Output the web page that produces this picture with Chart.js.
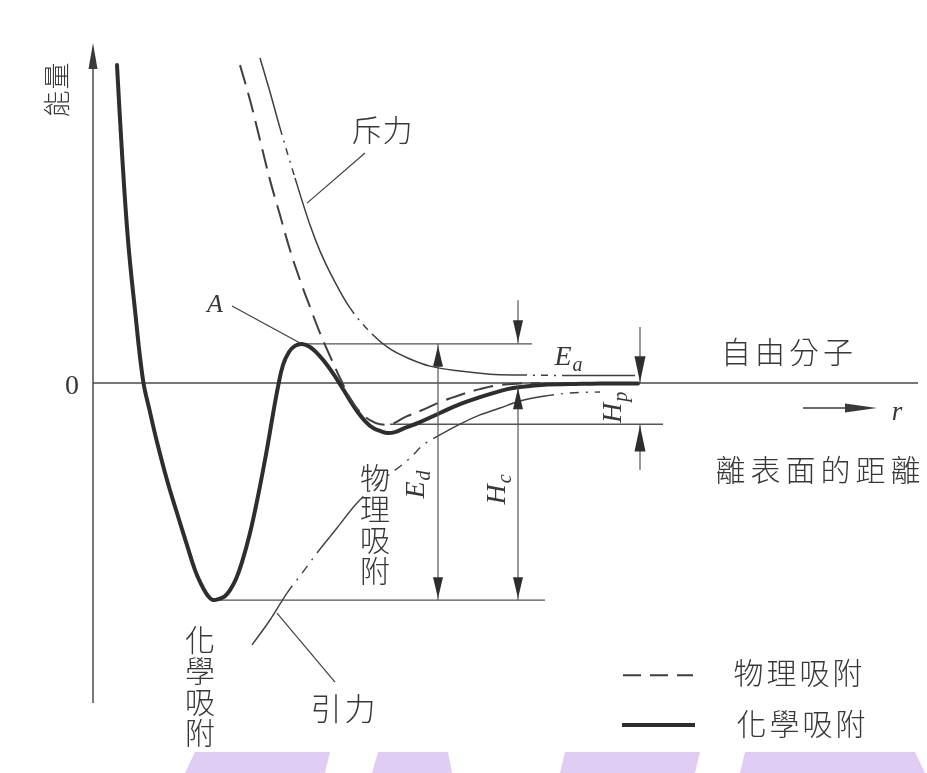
<!DOCTYPE html>
<html>
<head>
<meta charset="utf-8">
<title>吸附位能曲線</title>
<script src="https://cdn.jsdelivr.net/npm/chart.js@4.4.1/dist/chart.umd.min.js"></script>
<style>
  html, body { margin: 0; padding: 0; background: #ffffff; }
  canvas { display: block; }
</style>
</head>
<body>
<canvas id="c" width="927" height="773"></canvas>
<script>
// Distance from the surface r and potential energy E (arbitrary units) for each curve.
const chemR = [0.24,0.29,0.35,0.42,0.50,0.57,0.64,0.74,0.84,0.94,1.02,1.08,1.13,1.17,1.20,1.26,1.32,1.37,1.43,1.49,1.57,1.65,1.74,1.80,1.85,1.90,1.96,2.02,2.09,2.17,2.24,2.31,2.39,2.47,2.55,2.64,2.72,2.80,2.87,2.94,3.02,3.12,3.27,3.47,3.67,3.87,4.07,4.20,4.37,4.54,4.77,5.07,5.45];
const chemE = [1.465,1.060,0.659,0.336,0.014,-0.134,-0.272,-0.447,-0.599,-0.747,-0.862,-0.926,-0.968,-0.991,-1.000,-0.995,-0.982,-0.954,-0.903,-0.825,-0.691,-0.521,-0.304,-0.143,-0.018,0.083,0.143,0.171,0.180,0.166,0.138,0.101,0.051,-0.005,-0.065,-0.129,-0.175,-0.207,-0.221,-0.230,-0.226,-0.207,-0.180,-0.138,-0.097,-0.065,-0.037,-0.023,-0.014,-0.007,-0.005,-0.002,-0.002];

const physR = [1.47,1.57,1.67,1.77,1.87,1.97,2.07,2.17,2.27,2.37,2.47,2.57,2.67,2.77,2.87,2.99,3.12,3.27,3.47,3.67,3.87,4.07,4.27,4.47];
const physE = [1.465,1.304,1.120,0.935,0.774,0.613,0.475,0.350,0.230,0.124,0.023,-0.069,-0.134,-0.171,-0.190,-0.188,-0.157,-0.129,-0.088,-0.055,-0.028,-0.009,-0.002,0];

const repulR = [1.67,1.77,1.87,2.02,2.17,2.27,2.42,2.57,2.79,2.97,3.17,3.37,3.67,3.97,4.27,4.72,5.07,5.42];
const repulE = [1.498,1.341,1.175,0.945,0.728,0.608,0.465,0.346,0.226,0.157,0.111,0.078,0.055,0.041,0.037,0.035,0.035,0.035];

const attrR = [1.59,1.77,1.94,2.07,2.24,2.44,2.64,2.87,3.17,3.30,3.45,3.67,3.87,4.07,4.27,4.52,4.77,5.07];
const attrE = [-1.207,-1.092,-0.968,-0.889,-0.783,-0.668,-0.553,-0.456,-0.346,-0.286,-0.244,-0.189,-0.147,-0.115,-0.083,-0.060,-0.046,-0.041];

const seriesNames = ['物理吸附', '化學吸附'];

// Axis ranges (r along x, E along y)
const R_MIN = -0.93, R_MAX = 8.34;
const E_MIN = -1.797, E_MAX = 1.765;

// Characteristic levels taken from the curves themselves
const peakE = Math.max(...chemE.filter((e, i) => chemR[i] > 1.5));
const peakR = chemR[chemE.indexOf(peakE)];
const chemMinE = Math.min(...chemE);
const chemMinR = chemR[chemE.indexOf(chemMinE)];
const physMinE = Math.min(...physE);

const toPoints = (rs, es) => rs.map((r, i) => ({ x: r, y: es[i] }));
const inRanges = (v, ranges) => ranges.some(([a, b]) => v >= a - 1e-6 && v < b - 1e-6);

const INK = '#2e2e2e';
const THIN = '#3f3f3f';
const REF = '#555555';
const TEXT = '#383838';
const TINT = '#e0cdf3';
const CJK = "'Noto Sans CJK TC', 'Noto Sans CJK SC', sans-serif";
const SERIF = "'Liberation Serif', 'DejaVu Serif', serif";

// dash-dot stretches of the repulsion curve and solid stretches of the attraction curve
const repulBroken = [[1.87, 2.02], [2.57, 2.79], [4.27, 4.72]];
const attrSolid = [[1.59, 1.94], [2.24, 2.64], [3.45, 4.52]];

// lavender print tint along the lower edge of the page: [r top-left, r top-right, r bottom-right, r bottom-left]
const tintBlocks = [[1.02, 2.37, 2.32, 0.92], [2.85, 3.55, 3.59, 2.79], [4.72, 6.07, 6.02, 4.67], [6.52, 8.22, 8.32, 6.47]];
const TINT_TOP = -1.700;

const annotations = {
  id: 'annotations',
  beforeDatasetsDraw(chart) {
    const ctx = chart.ctx, sx = chart.scales.x, sy = chart.scales.y;
    const X = v => sx.getPixelForValue(v), Y = v => sy.getPixelForValue(v);
    const seg = (r1, e1, r2, e2, w, col) => {
      ctx.beginPath(); ctx.lineWidth = w; ctx.strokeStyle = col;
      ctx.moveTo(X(r1), Y(e1)); ctx.lineTo(X(r2), Y(e2)); ctx.stroke();
    };
    ctx.save();
    ctx.setLineDash([]);
    // page tint
    ctx.fillStyle = TINT;
    tintBlocks.forEach(([a, b, c, d]) => {
      ctx.beginPath();
      ctx.moveTo(X(a), Y(TINT_TOP)); ctx.lineTo(X(b), Y(TINT_TOP));
      ctx.lineTo(X(c), Y(E_MIN)); ctx.lineTo(X(d), Y(E_MIN));
      ctx.closePath(); ctx.fill();
    });
    // energy axis and zero line
    seg(0, -1.475, 0, 1.50, 1.5, '#4a4a4a');
    seg(0, 0, 8.25, 0, 1.5, '#4a4a4a');
    // reference levels
    seg(peakR, peakE, 4.39, peakE, 1.3, REF);
    seg(2.97, physMinE, 5.70, physMinE, 1.3, REF);
    seg(chemMinR, chemMinE, 4.52, chemMinE, 1.3, REF);
    ctx.restore();
  },
  afterDatasetsDraw(chart) {
    const ctx = chart.ctx, sx = chart.scales.x, sy = chart.scales.y;
    const X = v => sx.getPixelForValue(v), Y = v => sy.getPixelForValue(v);
    const seg = (r1, e1, r2, e2, w, col) => {
      ctx.beginPath(); ctx.lineWidth = w; ctx.strokeStyle = col;
      ctx.moveTo(X(r1), Y(e1)); ctx.lineTo(X(r2), Y(e2)); ctx.stroke();
    };
    // filled arrow head; (dx,dy) is the pointing direction in pixels
    const head = (r, e, dx, dy, len, hw, col) => {
      const x = X(r), y = Y(e);
      ctx.beginPath(); ctx.fillStyle = col;
      ctx.moveTo(x, y);
      ctx.lineTo(x - dx * len - dy * hw, y - dy * len + dx * hw);
      ctx.lineTo(x - dx * len + dy * hw, y - dy * len - dx * hw);
      ctx.closePath(); ctx.fill();
    };
    const row = (str, r, e, size, adv) => {
      ctx.font = '300 ' + size + 'px ' + CJK;
      ctx.textAlign = 'center'; ctx.textBaseline = 'middle'; ctx.fillStyle = TEXT;
      const chars = [...str];
      const x0 = X(r) - adv * (chars.length - 1) / 2;
      chars.forEach((ch, i) => ctx.fillText(ch, x0 + i * adv, Y(e)));
    };
    const column = (str, r, e, size, adv) => {
      ctx.font = '300 ' + size + 'px ' + CJK;
      ctx.textAlign = 'center'; ctx.textBaseline = 'middle'; ctx.fillStyle = TEXT;
      [...str].forEach((ch, i) => ctx.fillText(ch, X(r), Y(e) + i * adv));
    };
    // italic symbol with subscript, optionally rotated
    const sym = (main, sub, r, e, size, rot) => {
      ctx.save();
      ctx.translate(X(r), Y(e)); ctx.rotate(rot || 0);
      ctx.fillStyle = TEXT; ctx.textBaseline = 'alphabetic'; ctx.textAlign = 'left';
      ctx.font = 'italic ' + size + 'px ' + SERIF;
      const w1 = ctx.measureText(main).width;
      ctx.font = 'italic ' + Math.round(size * 0.72) + 'px ' + SERIF;
      const w2 = sub ? ctx.measureText(sub).width : 0;
      const x0 = -(w1 + w2) / 2, base = size * 0.33;
      ctx.font = 'italic ' + size + 'px ' + SERIF;
      ctx.fillText(main, x0, base);
      if (sub) {
        ctx.font = 'italic ' + Math.round(size * 0.72) + 'px ' + SERIF;
        ctx.fillText(sub, x0 + w1 + 1, base + size * 0.2);
      }
      ctx.restore();
    };

    ctx.save();
    ctx.setLineDash([]);

    // axis arrow
    head(0, 1.567, 0, -1, 26, 4.5, '#3a3a3a');

    // E_d : from barrier top down to the chemisorption well
    seg(3.45, peakE, 3.45, chemMinE, 1.2, REF);
    head(3.45, peakE - 0.008, 0, -1, 21, 5, INK);
    head(3.45, chemMinE + 0.008, 0, 1, 21, 5, INK);

    // H_c : from the free molecule level to the chemisorption well
    seg(4.25, -0.02, 4.25, chemMinE, 1.2, REF);
    head(4.25, -0.024, 0, -1, 21, 5, INK);
    head(4.25, chemMinE + 0.008, 0, 1, 21, 5, INK);

    // E_a : arrow onto the barrier level
    seg(4.25, 0.382, 4.25, peakE, 1.2, REF);
    head(4.25, peakE + 0.008, 0, 1, 22, 5, INK);

    // H_p : opposing arrows enclosing the physisorption depth
    seg(5.47, 0.258, 5.47, 0, 1.2, REF);
    head(5.47, 0.004, 0, 1, 26, 5.5, INK);
    seg(5.47, -0.401, 5.47, physMinE, 1.2, REF);
    head(5.47, physMinE - 0.006, 0, -1, 26, 5.5, INK);

    // r direction arrow
    seg(7.10, -0.115, 7.60, -0.115, 1.6, '#3a3a3a');
    head(7.84, -0.115, 1, 0, 32, 4.5, '#3a3a3a');

    // leader lines
    seg(2.72, 1.060, 2.14, 0.829, 1.2, THIN);
    seg(1.39, 0.355, peakR - 0.02, peakE + 0.004, 1.2, THIN);
    seg(1.84, -1.060, 2.42, -1.378, 1.2, THIN);

    // legend samples
    ctx.save();
    ctx.setLineDash([18, 9]);
    seg(5.30, -1.346, 6.00, -1.346, 2, THIN);
    ctx.restore();
    seg(5.29, -1.576, 6.02, -1.576, 4, INK);

    // axis texts
    ctx.save();
    ctx.translate(X(-0.36), Y(1.350)); ctx.rotate(-Math.PI / 2);
    ctx.font = '300 27px ' + CJK; ctx.fillStyle = TEXT;
    ctx.textAlign = 'center'; ctx.textBaseline = 'middle';
    ctx.fillText('能', -14, 0); ctx.fillText('量', 14, 0);
    ctx.restore();

    ctx.font = '28px ' + SERIF; ctx.fillStyle = TEXT;
    ctx.textAlign = 'center'; ctx.textBaseline = 'middle';
    ctx.fillText('0', X(-0.21), Y(-0.018));

    // curve and level labels
    row('斥力', 2.89, 1.166, 30, 31);
    row('自由分子', 6.94, 0.143, 30, 34);
    row('離表面的距離', 7.25, -0.401, 30, 35);
    row('引力', 2.50, -1.498, 31, 34);
    column('物理吸附', 2.82, -0.438, 30, 31);
    column('化學吸附', 1.07, -1.184, 30, 31);
    row(seriesNames[0], 7.05, -1.336, 30, 33);
    row(seriesNames[1], 7.08, -1.571, 30, 33);

    sym('A', '', 1.22, 0.369, 26, 0);
    sym('E', 'a', 4.75, 0.125, 28, 0);
    sym('r', '', 8.04, -0.129, 27, 0);
    sym('H', 'p', 5.19, -0.115, 28, -Math.PI / 2);
    sym('E', 'd', 3.22, -0.470, 28, -Math.PI / 2);
    sym('H', 'c', 4.03, -0.493, 28, -Math.PI / 2);

    ctx.restore();
  }
};

const base = { showLine: true, pointRadius: 0, fill: false };

new Chart(document.getElementById('c'), {
  type: 'scatter',
  data: {
    datasets: [
      Object.assign({}, base, {
        label: '斥力',
        data: toPoints(repulR, repulE),
        cubicInterpolationMode: 'monotone',
        borderColor: THIN, borderWidth: 1.5,
        segment: { borderDash: ctx => inRanges(ctx.p0.parsed.x, repulBroken) ? [7, 6, 2, 6] : undefined }
      }),
      Object.assign({}, base, {
        label: '引力',
        data: toPoints(attrR, attrE),
        cubicInterpolationMode: 'monotone',
        borderColor: THIN, borderWidth: 1.4,
        segment: { borderDash: ctx => inRanges(ctx.p0.parsed.x, attrSolid) ? [] : [9, 7, 2, 7] }
      }),
      Object.assign({}, base, {
        label: seriesNames[0],
        data: toPoints(physR, physE),
        tension: 0.4,
        borderColor: THIN, borderWidth: 2, borderDash: [20, 9]
      }),
      Object.assign({}, base, {
        label: seriesNames[1],
        data: toPoints(chemR, chemE),
        tension: 0.4,
        borderColor: INK, borderWidth: 4, borderCapStyle: 'round', borderJoinStyle: 'round'
      })
    ]
  },
  options: {
    responsive: false,
    animation: false,
    devicePixelRatio: 1,
    events: [],
    layout: { padding: 0 },
    plugins: { legend: { display: false }, tooltip: { enabled: false } },
    scales: {
      x: { type: 'linear', min: R_MIN, max: R_MAX, display: false },
      y: { type: 'linear', min: E_MIN, max: E_MAX, display: false }
    }
  },
  plugins: [annotations]
});
</script>
</body>
</html>
